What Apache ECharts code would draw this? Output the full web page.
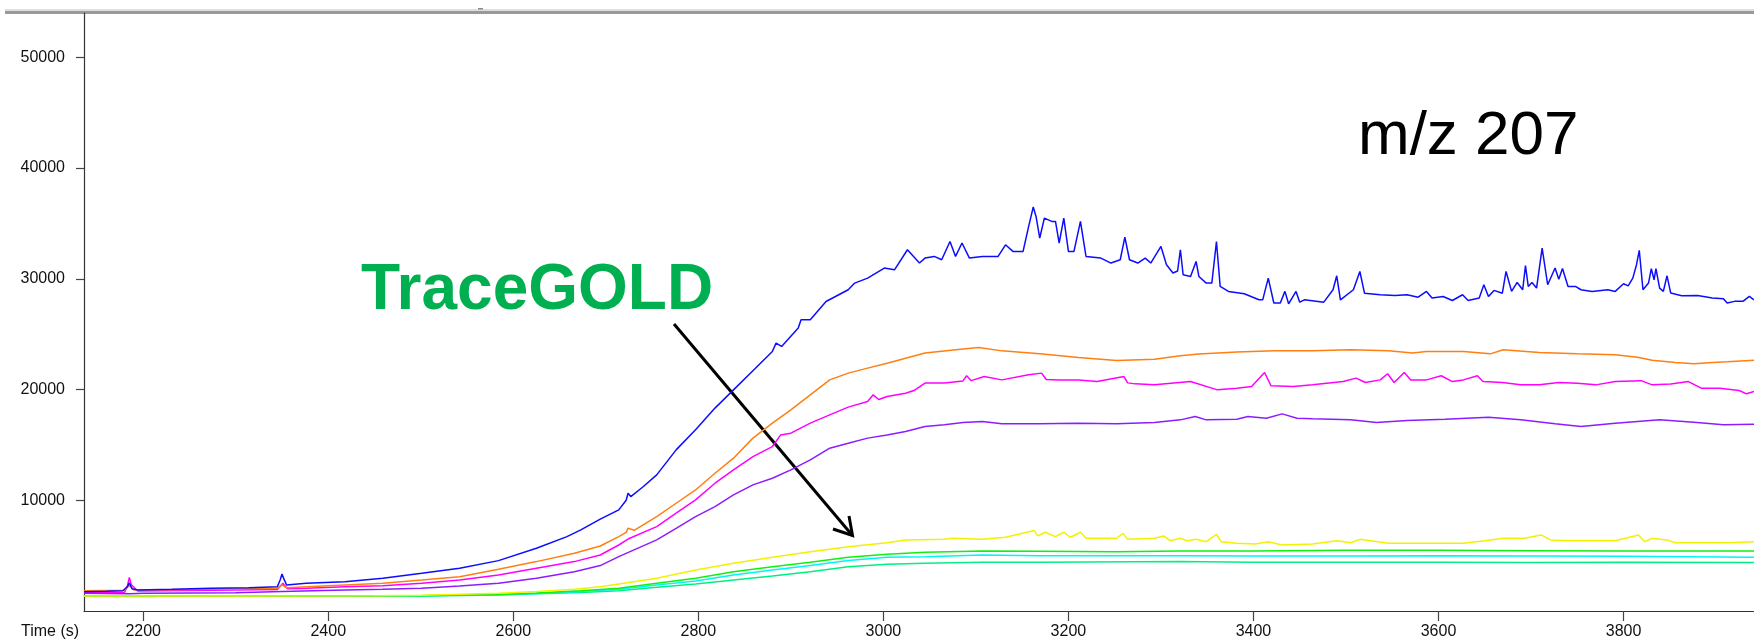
<!DOCTYPE html>
<html>
<head>
<meta charset="utf-8">
<script src="https://cdn.jsdelivr.net/npm/echarts@6/dist/echarts.min.js"></script>
<style>
  html, body { margin: 0; padding: 0; background: #fff; }
  #chart { width: 1754px; height: 640px; }
</style>
</head>
<body>
<div id="chart"></div>
<script>
// Ion chromatogram traces, m/z 207 – [time (s), intensity]
const xTicks = [2200, 2400, 2600, 2800, 3000, 3200, 3400, 3600, 3800];
const yTicks = [10000, 20000, 30000, 40000, 50000];

const traceBlue = [[2136,1745],[2160,1790],[2178,1830],[2183,2200],[2185,2550],[2188,2000],[2194,1900],[2231,1960],[2273,2050],[2314,2110],[2345,2200],[2348,2800],[2350,3340],[2352,2900],[2355,2350],[2376,2500],[2418,2650],[2459,2950],[2501,3400],[2542,3860],[2584,4550],[2625,5660],[2658,6720],[2673,7320],[2694,8300],[2714,9130],[2722,10000],[2724,10630],[2727,10330],[2740,11200],[2755,12290],[2776,14550],[2797,16360],[2818,18320],[2838,19970],[2859,21700],[2880,23430],[2884,24190],[2890,23890],[2908,25550],[2911,26300],[2921,26300],[2938,27950],[2962,29010],[2969,29610],[2983,30060],[3001,30970],[3012,30810],[3026,32620],[3039,31420],[3045,31870],[3055,32020],[3063,31720],[3072,33370],[3078,32020],[3085,33230],[3093,31870],[3107,32020],[3124,32020],[3132,33070],[3140,32470],[3151,32470],[3157,34730],[3162,36480],[3165,35630],[3169,33680],[3174,35480],[3182,35180],[3186,35180],[3190,33230],[3195,35480],[3200,32470],[3206,32470],[3213,35180],[3219,32020],[3235,31870],[3246,31420],[3256,31720],[3261,33770],[3266,31720],[3275,31420],[3283,31870],[3289,31420],[3300,32920],[3306,31270],[3313,30520],[3318,30700],[3321,32620],[3324,30360],[3332,30210],[3338,31570],[3341,30210],[3349,29610],[3355,29610],[3360,33370],[3364,29310],[3373,28860],[3390,28650],[3406,28100],[3410,28100],[3416,30060],[3422,27810],[3429,27810],[3434,28860],[3438,27740],[3446,28860],[3450,27890],[3455,28100],[3476,27890],[3486,29010],[3490,30270],[3494,28100],[3508,29010],[3515,30660],[3520,28700],[3537,28560],[3553,28500],[3566,28560],[3578,28340],[3587,28860],[3593,28260],[3605,28400],[3615,28040],[3626,28560],[3632,28040],[3644,28260],[3649,29460],[3654,28400],[3660,28950],[3669,28700],[3673,30660],[3679,28860],[3685,29670],[3691,29010],[3694,31180],[3697,29310],[3701,29670],[3706,29160],[3712,32770],[3718,29460],[3726,30970],[3730,29960],[3734,30920],[3740,29310],[3748,29310],[3754,29010],[3766,28860],[3783,29010],[3791,28860],[3800,29550],[3805,29360],[3810,30060],[3814,31270],[3817,32560],[3821,29010],[3827,29610],[3830,30920],[3833,29910],[3835,30920],[3839,29160],[3843,28860],[3847,30270],[3851,28710],[3863,28470],[3880,28500],[3896,28260],[3908,28200],[3912,27810],[3920,27960],[3929,27960],[3936,28410],[3941,28100]];

const traceOrange = [[2136,1830],[2180,1880],[2185,2300],[2190,1900],[2250,1950],[2345,2050],[2350,2350],[2355,2100],[2377,2200],[2418,2350],[2459,2500],[2501,2800],[2542,3100],[2584,3770],[2625,4460],[2666,5210],[2694,5870],[2714,6720],[2722,7100],[2724,7470],[2731,7300],[2755,8520],[2776,9730],[2797,10930],[2818,12440],[2838,13800],[2859,15610],[2880,16960],[2900,18160],[2921,19520],[2942,20870],[2962,21480],[2983,21930],[3004,22380],[3024,22830],[3045,23290],[3086,23650],[3103,23800],[3128,23490],[3169,23220],[3211,22890],[3252,22620],[3293,22740],[3321,23040],[3341,23200],[3382,23380],[3423,23490],[3464,23490],[3505,23590],[3546,23490],[3572,23290],[3587,23440],[3627,23440],[3656,23220],[3670,23590],[3709,23350],[3750,23220],[3791,23150],[3815,22920],[3831,22650],[3856,22440],[3876,22320],[3896,22440],[3912,22500],[3941,22650]];

const traceMagenta = [[2136,1660],[2180,1700],[2183,2300],[2185,3040],[2187,2400],[2194,1800],[2250,1850],[2300,1900],[2345,1950],[2351,2500],[2356,2000],[2377,2050],[2418,2200],[2459,2290],[2501,2500],[2542,2800],[2584,3250],[2625,3860],[2666,4460],[2694,5060],[2714,5960],[2724,6500],[2755,7620],[2776,8830],[2797,10030],[2818,11540],[2838,12740],[2859,13940],[2880,14850],[2889,15900],[2900,16060],[2921,16960],[2942,17710],[2962,18410],[2983,18910],[2989,19520],[2995,19100],[3004,19370],[3024,19670],[3033,19910],[3045,20580],[3066,20580],[3086,20780],[3090,21240],[3095,20800],[3109,21170],[3128,20870],[3157,21330],[3171,21480],[3176,20900],[3190,20870],[3211,20870],[3231,20720],[3260,21170],[3264,20600],[3272,20510],[3293,20420],[3320,20630],[3332,20720],[3361,19970],[3382,20120],[3398,20270],[3412,21540],[3419,20330],[3443,20270],[3464,20420],[3497,20720],[3511,21030],[3521,20630],[3537,20870],[3545,21420],[3552,20630],[3563,21540],[3570,20870],[3587,20870],[3603,21240],[3615,20720],[3627,20870],[3642,21240],[3648,20720],[3669,20630],[3689,20420],[3709,20420],[3730,20630],[3750,20570],[3770,20420],[3791,20720],[3819,20800],[3831,20420],[3851,20500],[3870,20720],[3884,20120],[3904,20120],[3925,19910],[3933,19610],[3941,19820]];

const traceViolet = [[2136,1600],[2185,1550],[2200,1600],[2300,1650],[2350,1750],[2418,1900],[2459,1960],[2501,2050],[2542,2260],[2584,2500],[2625,2950],[2666,3550],[2694,4100],[2714,4910],[2755,6420],[2776,7470],[2797,8520],[2818,9430],[2838,10480],[2859,11390],[2880,11990],[2900,12740],[2921,13650],[2942,14700],[2962,15150],[2983,15610],[3004,15900],[3024,16200],[3045,16660],[3066,16810],[3086,17020],[3107,17110],[3128,16900],[3169,16900],[3211,16960],[3252,16900],[3293,17020],[3321,17260],[3337,17560],[3349,17260],[3382,17320],[3394,17560],[3414,17410],[3431,17800],[3447,17410],[3464,17350],[3505,17260],[3533,17020],[3566,17200],[3607,17320],[3654,17500],[3689,17260],[3726,16900],[3754,16660],[3791,16960],[3839,17260],[3876,17050],[3908,16810],[3941,16870]];

const traceYellow = [[2136,1360],[2300,1360],[2450,1380],[2501,1420],[2584,1600],[2625,1750],[2666,1960],[2694,2200],[2714,2440],[2755,2950],[2797,3700],[2838,4310],[2880,4850],[2921,5360],[2962,5810],[3004,6170],[3024,6420],[3066,6470],[3074,6570],[3107,6470],[3132,6660],[3163,7260],[3167,6780],[3175,7110],[3186,6720],[3195,7110],[3202,6660],[3213,7110],[3219,6570],[3252,6570],[3259,7010],[3264,6470],[3293,6570],[3303,6780],[3310,6350],[3321,6570],[3328,6350],[3338,6470],[3349,6260],[3360,6930],[3365,6260],[3382,6120],[3402,6050],[3416,6260],[3431,5960],[3464,6050],[3490,6350],[3505,6170],[3515,6470],[3546,6120],[3587,6120],[3627,6120],[3650,6350],[3670,6570],[3693,6570],[3711,6870],[3721,6420],[3742,6350],[3791,6350],[3816,6870],[3823,6260],[3831,6570],[3847,6420],[3856,6170],[3912,6170],[3941,6260]];

const traceGreen = [[2136,1360],[2500,1380],[2584,1500],[2625,1620],[2673,1830],[2714,2050],[2755,2500],[2797,2950],[2838,3550],[2880,4000],[2921,4400],[2962,4850],[3004,5120],[3045,5300],[3107,5420],[3169,5390],[3252,5360],[3321,5420],[3400,5420],[3500,5480],[3600,5480],[3700,5450],[3800,5420],[3941,5420]];

const traceCyan = [[2136,1360],[2500,1370],[2584,1480],[2625,1580],[2673,1750],[2714,1960],[2755,2350],[2797,2710],[2838,3250],[2880,3700],[2921,4100],[2962,4550],[3004,4850],[3045,4910],[3107,5060],[3169,5000],[3252,5000],[3321,5000],[3400,4970],[3500,4970],[3600,5000],[3700,4970],[3800,4940],[3941,4850]];

const traceSpring = [[2136,1330],[2210,1300],[2215,1340],[2500,1360],[2584,1450],[2625,1550],[2673,1660],[2714,1830],[2755,2140],[2797,2440],[2838,2800],[2880,3160],[2921,3550],[2962,4000],[3004,4220],[3045,4310],[3107,4400],[3169,4400],[3321,4460],[3400,4400],[3500,4400],[3600,4400],[3700,4370],[3800,4400],[3941,4370]];

const traces = [
  { data: traceSpring,  color: '#00f080' },
  { data: traceCyan,    color: '#00f5f5' },
  { data: traceGreen,   color: '#10f010' },
  { data: traceYellow,  color: '#f2f200' },
  { data: traceViolet,  color: '#8c1cff' },
  { data: traceMagenta, color: '#ff00ff' },
  { data: traceOrange,  color: '#ff7f10' },
  { data: traceBlue,    color: '#0c0cff' }
];

const chart = echarts.init(document.getElementById('chart'), null, { renderer: 'canvas' });
const labelFont = 'Liberation Sans, Arial, sans-serif';
const plain = v => String(v);

chart.setOption({
  animation: false,
  backgroundColor: '#ffffff',
  grid: { left: 84, right: 0, top: 13, bottom: 29, containLabel: false },
  xAxis: {
    type: 'value', min: 2136, max: 3941,
    axisLine: { show: true, lineStyle: { color: '#333', width: 1.2 } },
    axisTick: { show: true, length: 10, customValues: xTicks, lineStyle: { color: '#444', width: 1.2 } },
    axisLabel: { customValues: xTicks, formatter: plain, margin: 13, fontSize: 16, color: '#111', fontFamily: labelFont },
    splitLine: { show: false }
  },
  yAxis: {
    type: 'value', min: 0, max: 54000,
    axisLine: { show: true, lineStyle: { color: '#333', width: 1.2 } },
    axisTick: { show: true, length: 8, customValues: yTicks, lineStyle: { color: '#444', width: 1.2 } },
    axisLabel: { customValues: yTicks, formatter: plain, margin: 19, fontSize: 16, color: '#111', fontFamily: labelFont },
    splitLine: { show: false }
  },
  series: traces.map(t => ({
    type: 'line', data: t.data, showSymbol: false, symbol: 'none',
    lineStyle: { color: t.color, width: 1.5 }, itemStyle: { color: t.color },
    silent: true
  })),
  graphic: [
    // window frame along the top
    { type: 'rect', shape: { x: 5, y: 9, width: 1749, height: 2 }, style: { fill: '#dedede' }, silent: true },
    { type: 'rect', shape: { x: 5, y: 11, width: 1749, height: 3 }, style: { fill: '#999999' }, silent: true },
    { type: 'rect', shape: { x: 478, y: 8, width: 5, height: 1.5 }, style: { fill: '#8a8a8a' }, silent: true },
    // axis caption
    { type: 'text', x: 21, y: 632, style: { text: 'Time (s)', fontSize: 16, fontFamily: labelFont, fill: '#111', verticalAlign: 'middle' }, silent: true },
    // ion label
    { type: 'text', x: 1358, y: 137, style: { text: 'm/z 207', fontSize: 62, fontFamily: labelFont, fill: '#000', verticalAlign: 'middle' }, silent: true },
    // column label
    { type: 'text', x: 361, y: 291, style: { text: 'TraceGOLD', fontSize: 64, fontWeight: 'bold', fontFamily: labelFont, fill: '#00b050', verticalAlign: 'middle' }, silent: true },
    // pointer arrow
    { type: 'line', shape: { x1: 674, y1: 324, x2: 852, y2: 535 }, style: { stroke: '#000', lineWidth: 3 }, silent: true },
    { type: 'polyline', shape: { points: [[833, 529], [852.5, 535.5], [849, 516]] }, style: { stroke: '#000', lineWidth: 3, fill: null, lineJoin: 'miter' }, silent: true }
  ]
});
</script>
</body>
</html>
